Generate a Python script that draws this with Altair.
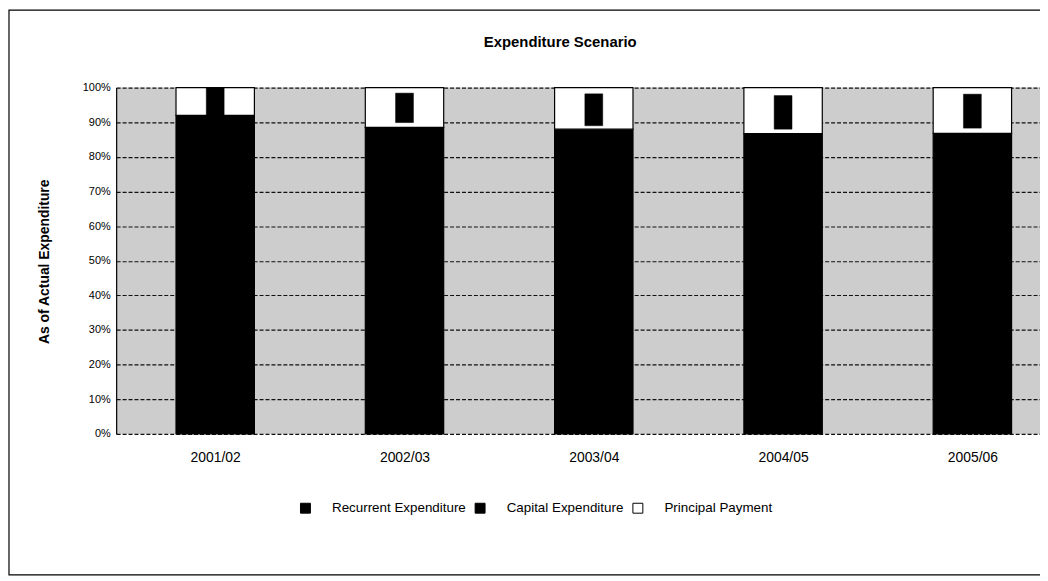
import altair as alt
import pandas as pd

categories = ["2001/02", "2002/03", "2003/04", "2004/05", "2005/06"]
recurrent = [92.0, 88.5, 88.0, 86.7, 86.8]
capital_from = [92.0, 89.9, 89.0, 88.0, 88.3]
capital_to = [100.0, 98.4, 98.2, 97.7, 98.1]
series = ["Recurrent Expenditure", "Capital Expenditure", "Principal Payment"]
y_ticks = [0, 10, 20, 30, 40, 50, 60, 70, 80, 90, 100]

FONT = "Liberation Sans"

wide_rows = []
for i, c in enumerate(categories):
    wide_rows.append({"idx": i, "cat": c, "series": series[0], "lo": 0.0, "hi": recurrent[i]})
    wide_rows.append({"idx": i, "cat": c, "series": series[2], "lo": recurrent[i], "hi": 100.0})
wide = pd.DataFrame(wide_rows)

narrow = pd.DataFrame({
    "idx": list(range(len(categories))),
    "cat": categories,
    "series": [series[1]] * len(categories),
    "lo": capital_from,
    "hi": capital_to,
})

label_expr = "[" + ",".join("'" + c + "'" for c in categories) + "][datum.value]"

x_scale = alt.Scale(domain=[-0.497, 4.331], nice=False, zero=False)
x_axis = alt.Axis(
    values=list(range(len(categories))),
    labelExpr=label_expr,
    title=None,
    domain=False,
    ticks=False,
    grid=False,
    labelFontSize=14,
    labelFont=FONT,
    labelColor="black",
    labelPadding=17,
)
y_scale = alt.Scale(domain=[0, 100], nice=False)
y_axis = alt.Axis(
    values=y_ticks,
    labelExpr="datum.value + '%'",
    title="As of Actual Expenditure",
    titleFontSize=14,
    titleFontWeight="bold",
    titleFont=FONT,
    titleColor="black",
    titleAngle=270,
    titleX=-72,
    titleY=175,
    titleBaseline="middle",
    titleAlign="center",
    labelFontSize=11,
    labelFont=FONT,
    labelColor="black",
    labelPadding=6,
    labelOverlap=False,
    ticks=False,
    domain=True,
    domainColor="black",
    domainWidth=1.2,
    grid=True,
    gridColor="#111111",
    gridDash=[4, 2],
    gridWidth=1.2,
)
color_scale = alt.Scale(domain=series, range=["black", "black", "white"])

legend = alt.Legend(
    title=None,
    orient="none",
    direction="horizontal",
    legendX=184,
    legendY=417,
    symbolType="square",
    symbolSize=100,
    symbolStrokeColor="black",
    symbolStrokeWidth=1,
    labelFontSize=13.5,
    labelFont=FONT,
    labelColor="black",
    labelOffset=20,
    columnPadding=6,
    labelLimit=300,
)

wide_bars = alt.Chart(wide).mark_bar(width=79, stroke="black", strokeWidth=1.2).encode(
    x=alt.X("idx:Q", scale=x_scale, axis=x_axis),
    y=alt.Y("lo:Q", scale=y_scale, axis=y_axis),
    y2="hi:Q",
    color=alt.Color("series:N", scale=color_scale, legend=legend),
)

narrow_bars = alt.Chart(narrow).mark_bar(width=18, stroke="black", strokeWidth=0.5).encode(
    x=alt.X("idx:Q", scale=x_scale, axis=x_axis),
    y=alt.Y("lo:Q", scale=y_scale, axis=y_axis),
    y2="hi:Q",
    color=alt.Color("series:N", scale=color_scale, legend=legend),
)

frame = alt.Chart(pd.DataFrame({"a": [0]})).mark_rect(
    fill=None, stroke="black", strokeWidth=1.2, clip=False
).encode(
    x=alt.value(-108),
    x2=alt.value(940),
    y=alt.value(-78),
    y2=alt.value(491),
)

chart = alt.layer(wide_bars, narrow_bars, frame).properties(
    width=931,
    height=349,
    background="white",
    title=alt.TitleParams(
        "Expenditure Scenario",
        fontSize=15,
        fontWeight="bold",
        font=FONT,
        color="black",
        anchor="middle",
        dx=-18,
        offset=-41,
    ),
    autosize=alt.AutoSizeParams(type="none"),
    padding={"left": 109, "top": 78, "right": 0, "bottom": 145},
).configure_view(
    fill="#cdcdcd", stroke=None
)

chart.save("out.html", embed_options={"renderer": "svg", "actions": False})
